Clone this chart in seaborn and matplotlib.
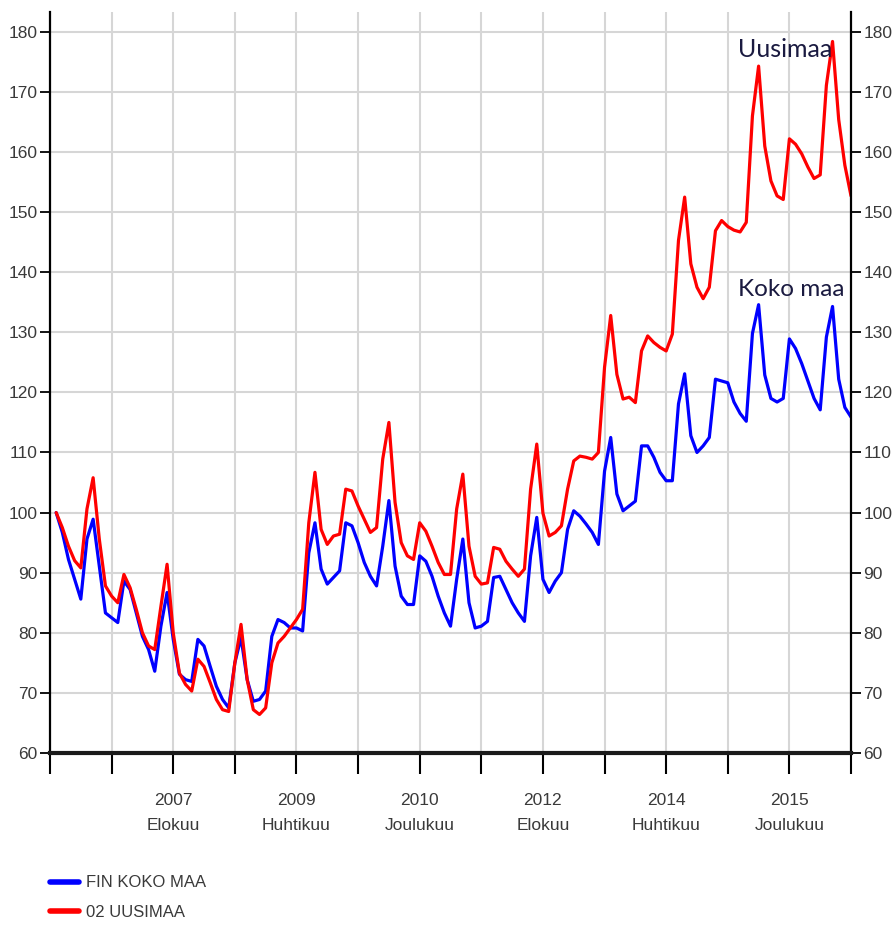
import matplotlib
matplotlib.use("Agg")
import matplotlib.pyplot as plt
import pandas as pd
import seaborn as sns

# Monthly index values, Jan 2006 .. Oct 2016 (first month = 100)
koko_maa = [
    100, 96.7, 92.2, 88.9, 85.6, 95.6, 98.9, 91.1, 83.3, 82.5, 81.7, 88.6,
    87.2, 83.3, 79.4, 77.2, 73.6, 81.1, 86.7, 78.9, 73.1, 72.2, 71.9, 78.9,
    77.8, 74.4, 71.1, 68.9, 67.5, 75.0, 79.2, 72.2, 68.6, 68.9, 70.3, 79.4,
    82.2, 81.7, 80.8, 80.8, 80.3, 93.3, 98.3, 90.6, 88.1, 89.2, 90.3, 98.3,
    97.8, 95.0, 91.7, 89.4, 87.8, 94.4, 102.0, 91.1, 86.1, 84.7, 84.7, 92.8,
    91.9, 89.4, 86.1, 83.3, 81.1, 88.9, 95.6, 85.0, 80.8, 81.1, 81.9, 89.2,
    89.4, 87.2, 85.0, 83.3, 81.9, 92.8, 99.2, 88.9, 86.7, 88.6, 90.0, 97.2,
    100.3, 99.4, 98.1, 96.7, 94.7, 106.9, 112.5, 103.1, 100.3, 101.1, 101.9, 111.1,
    111.1, 109.2, 106.7, 105.3, 105.3, 118.1, 123.1, 112.8, 110.0, 111.1, 112.5, 122.2,
    121.9, 121.6, 118.4, 116.5, 115.2, 129.8, 134.6, 122.9, 119.0, 118.4, 119.0, 128.9,
    127.3, 124.8, 121.9, 119.0, 117.1, 129.2, 134.3, 122.2, 117.5, 115.9,
]
uusimaa = [
    100, 97.5, 94.4, 92.0, 90.8, 100.6, 105.8, 95.6, 87.8, 86.1, 85.0, 89.7,
    87.5, 83.9, 80.0, 77.8, 77.2, 84.4, 91.4, 80.0, 73.3, 71.4, 70.3, 75.6,
    74.4, 71.7, 68.9, 67.2, 66.9, 75.0, 81.4, 72.2, 67.2, 66.4, 67.5, 75.0,
    78.3, 79.4, 80.8, 82.2, 83.9, 98.3, 106.7, 97.2, 94.7, 96.1, 96.4, 103.9,
    103.6, 101.1, 98.9, 96.7, 97.5, 108.9, 115.0, 101.7, 95.0, 92.8, 92.2, 98.3,
    96.9, 94.4, 91.7, 89.7, 89.7, 100.6, 106.4, 94.4, 89.4, 88.1, 88.3, 94.2,
    93.9, 91.9, 90.6, 89.4, 90.6, 103.9, 111.4, 99.9, 96.1, 96.7, 97.8, 103.9,
    108.6, 109.4, 109.2, 108.9, 110.0, 124.2, 132.8, 123.0, 118.9, 119.2, 118.3, 126.9,
    129.4, 128.3, 127.5, 126.9, 129.7, 145.3, 152.5, 141.4, 137.5, 135.6, 137.5, 146.9,
    148.6, 147.6, 147.0, 146.7, 148.3, 166.0, 174.3, 161.0, 155.2, 152.7, 152.1, 162.2,
    161.3, 159.7, 157.5, 155.6, 156.2, 171.1, 178.4, 165.4, 157.8, 152.7,
]
series_names = ["FIN KOKO MAA", "02 UUSIMAA"]
tick_labels = {
    19: "2007\nElokuu",
    39: "2009\nHuhtikuu",
    59: "2010\nJoulukuu",
    79: "2012\nElokuu",
    99: "2014\nHuhtikuu",
    119: "2015\nJoulukuu",
}

months = list(range(len(koko_maa)))
df = pd.concat([
    pd.DataFrame({"month": months, "value": koko_maa, "series": series_names[0]}),
    pd.DataFrame({"month": months, "value": uusimaa, "series": series_names[1]}),
])

sns.set_style("white")
plt.rcParams["font.family"] = ["Liberation Sans", "DejaVu Sans"]

fig = plt.figure(figsize=(8.96, 9.25), dpi=100)
ax = fig.add_axes([0.0558, 0.186, 0.894, 0.801])

sns.lineplot(data=df, x="month", y="value", hue="series",
             palette=["#0000ff", "#ff0000"], linewidth=2.3, ax=ax)

ax.set_xlim(-1, 129)
ax.set_ylim(60, 183.3)
ax.set_yticks(range(60, 181, 10))
xt = list(range(-1, 130, 10))
ax.set_xticks(xt)
ax.set_xticklabels([tick_labels.get(t, "") for t in xt], linespacing=1.85)

ax.grid(True, color="#d6d6d6", linewidth=1.5)
ax.set_axisbelow(True)

ax.tick_params(axis="y", which="both", left=True, right=True, labelleft=True,
               labelright=True, length=7, width=1.3, color="black",
               labelsize=12.5, labelcolor="#3a3a3a", pad=2)
ax.tick_params(axis="x", bottom=True, length=15, width=1.5, color="black",
               labelsize=12.5, labelcolor="#3a3a3a", pad=14)

for side in ["left", "right"]:
    ax.spines[side].set_color("black")
    ax.spines[side].set_linewidth(1.6)
ax.spines["bottom"].set_color("#1a1a1a")
ax.spines["bottom"].set_linewidth(3)
ax.spines["top"].set_visible(False)

ax.set_xlabel("")
ax.set_ylabel("")

ax.text(110.6, 177.0, "Uusimaa", fontsize=18, family=["Lato", "DejaVu Sans"],
        color="#1a1a40", va="center", ha="left")
ax.text(110.6, 137.1, "Koko maa", fontsize=17.5, family=["Lato", "DejaVu Sans"],
        color="#1a1a40", va="center", ha="left")

sns.move_legend(ax, loc="upper left", bbox_to_anchor=(-0.019, -0.145),
                frameon=False, title=None, fontsize=12, handlelength=1.75,
                handletextpad=0.45, labelspacing=0.85)
for txt in ax.get_legend().get_texts():
    txt.set_color("#3a3a3a")
for line in ax.get_legend().get_lines():
    line.set_linewidth(4)

fig.savefig("out.png", dpi=100)
